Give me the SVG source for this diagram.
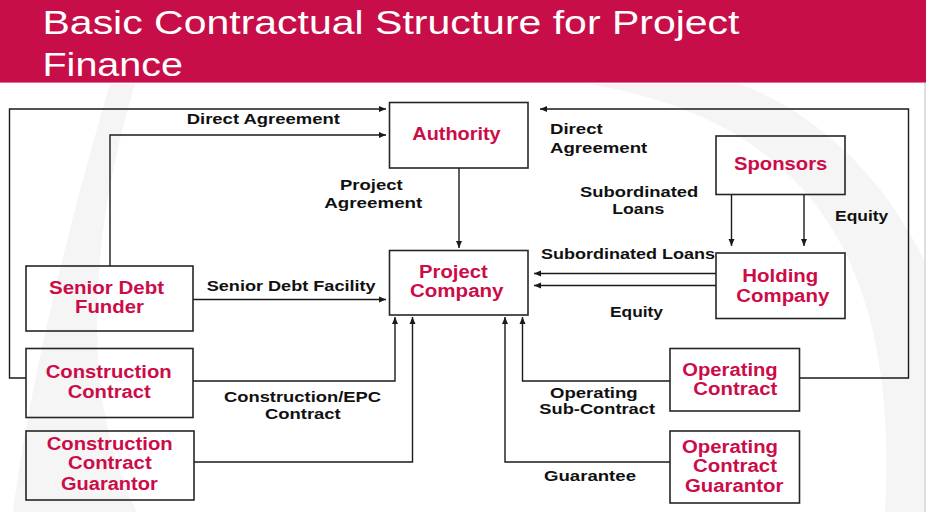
<svg xmlns="http://www.w3.org/2000/svg" width="926" height="512" viewBox="0 0 926 512">
<defs>
<style>
.box{fill:none;stroke:#262626;stroke-width:1.6}
.bt{font-family:"Liberation Sans",Arial,sans-serif;font-weight:bold;font-size:18px;fill:#CC0C48}
.lb{font-family:"Liberation Sans",Arial,sans-serif;font-weight:bold;font-size:15px;fill:#111}
.ttl{font-family:"Liberation Sans",Arial,sans-serif;font-size:32.5px;fill:#fff}
.cn{fill:none;stroke:#1a1a1a;stroke-width:1.4}
.wm{fill:#f5f5f5}
</style>
<marker id="ah" markerWidth="8" markerHeight="8" refX="7" refY="4" orient="auto" markerUnits="userSpaceOnUse">
<path d="M0,1 L7,4 L0,7 Z" fill="#1a1a1a"/>
</marker>
</defs>
<rect width="926" height="512" fill="#fff"/>
<g id="watermark">
<path class="wm" d="M110,84 C70,220 30,380 13,512 L137,512 C70,380 100,200 135,84 Z"/>
<path class="wm" d="M589,84 C800,120 900,250 885,512 L924,512 L924,260 C880,170 810,110 740,84 Z"/>
<line x1="925" y1="83" x2="925" y2="512" stroke="#d4d4d4" stroke-width="1.5"/>
</g>
<g id="header">
<rect x="0" y="0" width="926" height="82" fill="#C70E48"/>
<line x1="0" y1="82.5" x2="926" y2="82.5" stroke="#e4708f" stroke-width="1"/>
<text class="ttl" x="42.5" y="33.5" textLength="697" lengthAdjust="spacingAndGlyphs">Basic Contractual Structure for Project</text>
<text class="ttl" x="42.5" y="76" textLength="140.5" lengthAdjust="spacingAndGlyphs">Finance</text>
</g>
<g id="connectors">
<polyline class="cn" points="26,378 9.5,378 9.5,109 386,109" marker-end="url(#ah)"/>
<polyline class="cn" points="110,266 110,135 386,135" marker-end="url(#ah)"/>
<line class="cn" x1="459" y1="168" x2="459" y2="248" marker-end="url(#ah)"/>
<line class="cn" x1="193" y1="299.5" x2="386" y2="299.5" marker-end="url(#ah)"/>
<polyline class="cn" points="193,381 395,381 395,317" marker-end="url(#ah)"/>
<polyline class="cn" points="194,462 412.5,462 412.5,317" marker-end="url(#ah)"/>
<line class="cn" x1="716" y1="273.5" x2="534" y2="273.5" marker-end="url(#ah)"/>
<line class="cn" x1="716" y1="285.5" x2="534" y2="285.5" marker-end="url(#ah)"/>
<line class="cn" x1="731.5" y1="194.5" x2="731.5" y2="246" marker-end="url(#ah)"/>
<line class="cn" x1="804" y1="194.5" x2="804" y2="246" marker-end="url(#ah)"/>
<polyline class="cn" points="670,381 522.5,381 522.5,317" marker-end="url(#ah)"/>
<polyline class="cn" points="670,462 505,462 505,317" marker-end="url(#ah)"/>
<polyline class="cn" points="799.5,378 908.5,378 908.5,109 540,109" marker-end="url(#ah)"/>
<text class="lb" x="186.7" y="124.3" textLength="153.3" lengthAdjust="spacingAndGlyphs">Direct Agreement</text>
<text class="lb" x="340" y="190" textLength="62.7" lengthAdjust="spacingAndGlyphs">Project</text>
<text class="lb" x="324.3" y="207.7" textLength="98" lengthAdjust="spacingAndGlyphs">Agreement</text>
<text class="lb" x="550" y="134.3" textLength="52.7" lengthAdjust="spacingAndGlyphs">Direct</text>
<text class="lb" x="550" y="153.3" textLength="97.3" lengthAdjust="spacingAndGlyphs">Agreement</text>
<text class="lb" x="580" y="196.7" textLength="118.3" lengthAdjust="spacingAndGlyphs">Subordinated</text>
<text class="lb" x="612.3" y="214" textLength="52" lengthAdjust="spacingAndGlyphs">Loans</text>
<text class="lb" x="835" y="221" textLength="53.3" lengthAdjust="spacingAndGlyphs">Equity</text>
<text class="lb" x="541" y="259.3" textLength="174" lengthAdjust="spacingAndGlyphs">Subordinated Loans</text>
<text class="lb" x="610" y="316.7" textLength="53" lengthAdjust="spacingAndGlyphs">Equity</text>
<text class="lb" x="206.7" y="290.7" textLength="169" lengthAdjust="spacingAndGlyphs">Senior Debt Facility</text>
<text class="lb" x="224" y="402" textLength="157" lengthAdjust="spacingAndGlyphs">Construction/EPC</text>
<text class="lb" x="265" y="419.3" textLength="75.7" lengthAdjust="spacingAndGlyphs">Contract</text>
<text class="lb" x="550" y="398.3" textLength="87.7" lengthAdjust="spacingAndGlyphs">Operating</text>
<text class="lb" x="539.3" y="414.3" textLength="115.7" lengthAdjust="spacingAndGlyphs">Sub-Contract</text>
<text class="lb" x="544" y="480.7" textLength="92" lengthAdjust="spacingAndGlyphs">Guarantee</text>
</g>
<g id="authority">
<rect class="box" x="389.5" y="102.5" width="138.5" height="65.5"/>
<text class="bt" x="412.3" y="140" textLength="88.4" lengthAdjust="spacingAndGlyphs">Authority</text>
</g>
<g id="project-company">
<rect class="box" x="389.5" y="250.5" width="138.5" height="64.5"/>
<text class="bt" x="419" y="278.3" textLength="68.7" lengthAdjust="spacingAndGlyphs">Project</text>
<text class="bt" x="410" y="296.7" textLength="93.5" lengthAdjust="spacingAndGlyphs">Company</text>
</g>
<g id="sponsors">
<rect class="box" x="716" y="136" width="129" height="58.5"/>
<text class="bt" x="734" y="170" textLength="93.3" lengthAdjust="spacingAndGlyphs">Sponsors</text>
</g>
<g id="holding-company">
<rect class="box" x="716" y="253" width="129" height="65.5"/>
<text class="bt" x="742.3" y="282.3" textLength="76" lengthAdjust="spacingAndGlyphs">Holding</text>
<text class="bt" x="736.3" y="301.7" textLength="93" lengthAdjust="spacingAndGlyphs">Company</text>
</g>
<g id="senior-debt-funder">
<rect class="box" x="26" y="266" width="167" height="65"/>
<text class="bt" x="49" y="294.3" textLength="115" lengthAdjust="spacingAndGlyphs">Senior Debt</text>
<text class="bt" x="75" y="313.3" textLength="69" lengthAdjust="spacingAndGlyphs">Funder</text>
</g>
<g id="construction-contract">
<rect class="box" x="26" y="348.5" width="167" height="69"/>
<text class="bt" x="45.7" y="378.3" textLength="126" lengthAdjust="spacingAndGlyphs">Construction</text>
<text class="bt" x="67.7" y="397.7" textLength="83" lengthAdjust="spacingAndGlyphs">Contract</text>
</g>
<g id="construction-contract-guarantor">
<rect class="box" x="26" y="431" width="168" height="69"/>
<text class="bt" x="46.7" y="450" textLength="126" lengthAdjust="spacingAndGlyphs">Construction</text>
<text class="bt" x="68" y="469" textLength="83.7" lengthAdjust="spacingAndGlyphs">Contract</text>
<text class="bt" x="61" y="490" textLength="96.7" lengthAdjust="spacingAndGlyphs">Guarantor</text>
</g>
<g id="operating-contract">
<rect class="box" x="670" y="348.5" width="129.5" height="62.5"/>
<text class="bt" style="font-size:17.5px" x="682.3" y="375.5" textLength="95.4" lengthAdjust="spacingAndGlyphs">Operating</text>
<text class="bt" style="font-size:17.5px" x="693.3" y="395" textLength="84" lengthAdjust="spacingAndGlyphs">Contract</text>
</g>
<g id="operating-contract-guarantor">
<rect class="box" x="670" y="431" width="129.5" height="72"/>
<text class="bt" x="682" y="452.7" textLength="96" lengthAdjust="spacingAndGlyphs">Operating</text>
<text class="bt" x="693" y="471.7" textLength="84" lengthAdjust="spacingAndGlyphs">Contract</text>
<text class="bt" x="685" y="491.7" textLength="98.3" lengthAdjust="spacingAndGlyphs">Guarantor</text>
</g>
</svg>
